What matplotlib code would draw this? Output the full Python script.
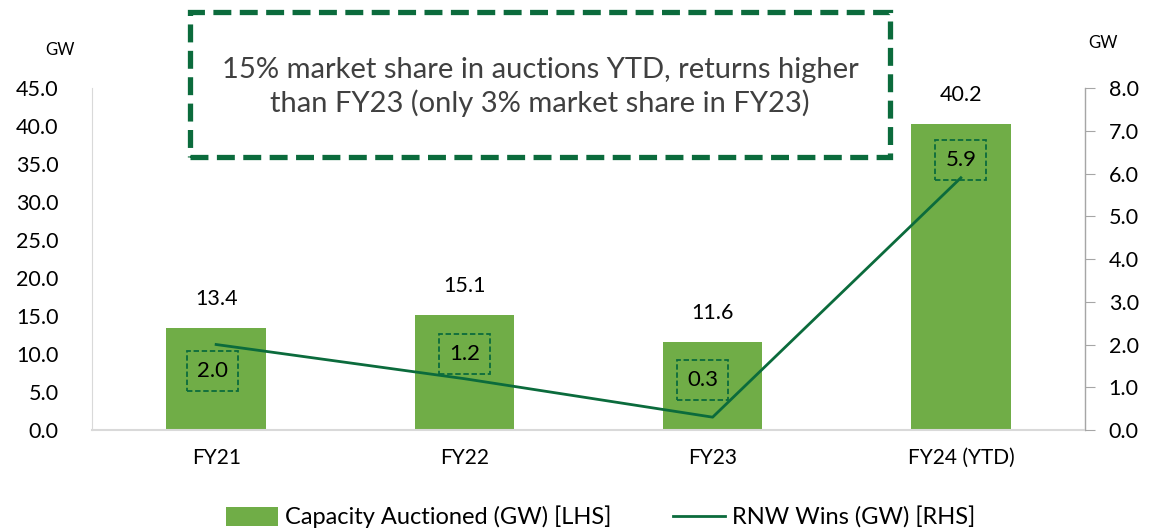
import matplotlib.pyplot as plt
from matplotlib.patches import Rectangle

plt.rcParams['font.family'] = ['Lato', 'DejaVu Sans']

# chart data
categories = ["FY21", "FY22", "FY23", "FY24 (YTD)"]
capacity = [13.4, 15.1, 11.6, 40.2]
rnw_wins = [2.0, 1.2, 0.3, 5.9]
# pixel offsets of the RNW label boxes from their points (dx, dy)
win_label_offsets = [(-4, -26), (0, 25), (-10, 37), (0, 18)]

bar_color = "#70AD47"
dark_green = "#0B6B3C"

fig = plt.figure(figsize=(11.67, 5.32), dpi=100)
ax = fig.add_axes([92 / 1167, 1 - 430 / 532, (1085 - 92) / 1167, (430 - 88) / 532])
ax2 = ax.twinx()

x = range(len(categories))
bars = ax.bar(x, capacity, width=0.4, color=bar_color, label="Capacity Auctioned (GW) [LHS]", zorder=2)
ax.set_xlim(-0.5, 3.5)
ax.set_ylim(0, 45)
ax.set_yticks([i * 5.0 for i in range(10)])
ax.set_yticklabels([f"{i * 5.0:.1f}" for i in range(10)], fontsize=15.5)
ax.set_xticks(list(x))
ax.set_xticklabels(categories, fontsize=15)
ax.tick_params(axis="y", length=0, pad=24)
ax.tick_params(axis="x", length=0, pad=13)

for b, v in zip(bars, capacity):
    ax.annotate(f"{v:.1f}", (b.get_x() + b.get_width() / 2, v), xytext=(0, 21),
                textcoords="offset points", ha="center", va="center", fontsize=15.5)

line, = ax2.plot(x, rnw_wins, color=dark_green, lw=2, label="RNW Wins (GW) [RHS]", zorder=3)
ax2.set_ylim(0, 8)
ax2.set_yticks([float(i) for i in range(9)])
ax2.set_yticklabels([f"{i:.1f}" for i in range(9)], fontsize=15.5)
ax2.tick_params(axis="y", length=7, color="#A6A6A6", pad=10)

for xi, v, (dx, dy) in zip(x, rnw_wins, win_label_offsets):
    ax2.annotate(f"{v:.1f}", (xi, v), xytext=(dx * 0.72, dy * 0.72), textcoords="offset points",
                 ha="center", va="center", fontsize=16,
                 bbox=dict(boxstyle="square,pad=0.45", fc="none", ec=dark_green, lw=1.3, ls=(0, (3, 1.5))))

for a in (ax, ax2):
    a.spines["top"].set_visible(False)
ax.spines["left"].set_color("#D9D9D9")
ax.spines["bottom"].set_color("#D9D9D9")
ax.spines["bottom"].set_linewidth(1.5)
ax2.spines["left"].set_visible(False)
ax2.spines["bottom"].set_visible(False)
ax2.spines["right"].set_color("#A6A6A6")

fig.text(60 / 1167, 1 - 50 / 532, "GW", ha="center", va="center", fontsize=12)
fig.text(1103 / 1167, 1 - 43 / 532, "GW", ha="center", va="center", fontsize=12)

# callout box
fig.patches.append(Rectangle((190 / 1167, 1 - 157 / 532), 700 / 1167, 145 / 532, transform=fig.transFigure,
                             fill=False, ec=dark_green, lw=3.8, ls=(0, (3.4, 1.6)), zorder=5))
fig.text(540 / 1167, 1 - 87 / 532, "15% market share in auctions YTD, returns higher\nthan FY23 (only 3% market share in FY23)",
         ha="center", va="center", fontsize=21, color="#404040", linespacing=1.28)

fig.legend(handles=[bars, line], loc="center", bbox_to_anchor=(601 / 1167, 1 - 517 / 532), ncol=2,
           frameon=False, fontsize=17, handlelength=2.2, handleheight=0.85, handletextpad=0.3,
           columnspacing=2.6)

fig.savefig("out.png", dpi=100)
